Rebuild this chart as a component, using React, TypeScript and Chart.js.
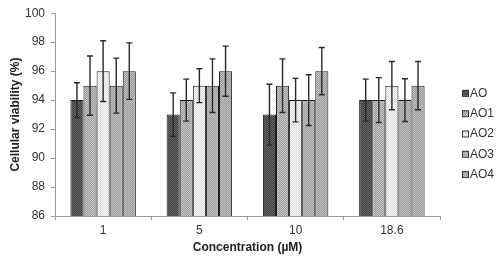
import React, { useEffect, useRef } from "react";
import { Chart, registerables } from "chart.js";

Chart.register(...registerables);

const categories = ["1", "5", "10", "18.6"];
const seriesNames = ["AO", "AO1", "AO2", "AO3", "AO4"];
const aoValues = [94, 93, 93, 94];
const ao1Values = [95, 94, 95, 94];
const ao2Values = [96, 95, 94, 95];
const ao3Values = [95, 95, 94, 94];
const ao4Values = [96, 96, 96, 95];
const aoErrors = [1.2, 1.5, 2.1, 1.45];
const ao1Errors = [2.05, 1.45, 1.85, 1.55];
const ao2Errors = [2.1, 1.17, 1.5, 1.67];
const ao3Errors = [1.9, 1.85, 1.75, 1.48];
const ao4Errors = [1.95, 1.73, 1.63, 1.67];
const yTicks = [86, 88, 90, 92, 94, 96, 98, 100];

const palette: [string, string][] = [
  ["#3e3e3e", "#686868"],
  ["#9a9a9a", "#c8c8c8"],
  ["#dedede", "#f6f6f6"],
  ["#a2a2a2", "#bdbdbd"],
  ["#999999", "#c2c2c2"],
];

function makePattern(a: string, b: string): CanvasPattern | string {
  const c = document.createElement("canvas");
  c.width = 2;
  c.height = 2;
  const ctx = c.getContext("2d");
  if (!ctx) return a;
  ctx.fillStyle = a;
  ctx.fillRect(0, 0, 2, 2);
  ctx.fillStyle = b;
  ctx.fillRect(0, 0, 1, 1);
  ctx.fillRect(1, 1, 1, 1);
  return ctx.createPattern(c, "repeat") || a;
}

const errorBarPlugin = {
  id: "errorBars",
  afterDatasetsDraw(chart: any) {
    const ctx = chart.ctx;
    const yScale = chart.scales.y;
    ctx.save();
    ctx.strokeStyle = "#2a2a2a";
    ctx.lineWidth = 1.4;
    chart.data.datasets.forEach((ds: any, i: number) => {
      const meta = chart.getDatasetMeta(i);
      meta.data.forEach((el: any, j: number) => {
        const v = ds.data[j];
        const e = ds.errors[j];
        const x = el.x;
        const yt = yScale.getPixelForValue(v + e);
        const yb = yScale.getPixelForValue(v - e);
        ctx.beginPath();
        ctx.moveTo(x, yt);
        ctx.lineTo(x, yb);
        ctx.moveTo(x - 3, yt);
        ctx.lineTo(x + 3, yt);
        ctx.moveTo(x - 3, yb);
        ctx.lineTo(x + 3, yb);
        ctx.stroke();
      });
    });
    ctx.restore();
  },
};

const legendPlugin = {
  id: "sideLegend",
  afterDraw(chart: any) {
    const ctx = chart.ctx;
    const area = chart.chartArea;
    const x0 = area.right + 22;
    const spacing = 20.3;
    const n = chart.data.datasets.length;
    const yStart = 133.5 - ((n - 1) * spacing) / 2;
    ctx.save();
    ctx.font = "12px 'Liberation Sans', Arial, sans-serif";
    ctx.textBaseline = "middle";
    ctx.textAlign = "left";
    chart.data.datasets.forEach((ds: any, i: number) => {
      const y = yStart + i * spacing;
      ctx.fillStyle = ds.backgroundColor;
      ctx.fillRect(x0, y - 3, 6, 6);
      ctx.strokeStyle = "#333";
      ctx.lineWidth = 1;
      ctx.strokeRect(x0 + 0.5, y - 2.5, 6, 6);
      ctx.fillStyle = "#333";
      ctx.fillText(ds.label, x0 + 8, y + 0.5);
    });
    ctx.restore();
  },
};

export default function App() {
  const ref = useRef<HTMLCanvasElement | null>(null);

  useEffect(() => {
    document.body.style.margin = "0";
    const canvas = ref.current;
    if (!canvas) return;
    const values = [aoValues, ao1Values, ao2Values, ao3Values, ao4Values];
    const errors = [aoErrors, ao1Errors, ao2Errors, ao3Errors, ao4Errors];
    const font = "'Liberation Sans', Arial, sans-serif";
    const chart = new Chart(canvas, {
      type: "bar",
      data: {
        labels: categories,
        datasets: seriesNames.map((name, i) => ({
          label: name,
          data: values[i],
          errors: errors[i],
          backgroundColor: makePattern(palette[i][0], palette[i][1]),
          borderColor: "#1c1c1c",
          borderWidth: 1,
          barPercentage: 1,
          categoryPercentage: 0.68,
        })) as any,
      },
      options: {
        responsive: false,
        animation: false,
        layout: { padding: { top: 11, right: 60, bottom: 0, left: 0 } },
        plugins: {
          legend: { display: false },
          tooltip: { enabled: false },
        },
        scales: {
          x: {
            type: "category",
            offset: true,
            grid: {
              display: true,
              drawOnChartArea: false,
              drawTicks: true,
              tickLength: 4,
              color: "#9a9a9a",
              offset: true,
            },
            border: { display: true, color: "#9a9a9a" },
            ticks: { color: "#333", font: { family: font, size: 12 }, padding: 3 },
            title: {
              display: true,
              text: "Concentration (µM)",
              color: "#222",
              font: { family: font, size: 12, weight: "bold" },
              padding: { top: 0, bottom: 7 },
            },
            afterFit: (s: any) => {
              s.height = 46;
            },
          },
          y: {
            min: 86,
            max: 100,
            afterBuildTicks: (s: any) => {
              s.ticks = yTicks.map((v) => ({ value: v }));
            },
            grid: {
              display: true,
              drawOnChartArea: false,
              drawTicks: true,
              tickLength: 4,
              color: "#9a9a9a",
            },
            border: { display: true, color: "#9a9a9a" },
            ticks: { color: "#333", font: { family: font, size: 12 }, padding: 6 },
            title: {
              display: true,
              text: "Cellular viability (%)",
              color: "#222",
              font: { family: font, size: 12, weight: "bold" },
              padding: { top: 8, bottom: 0 },
            },
            afterFit: (s: any) => {
              s.width = 55;
            },
          },
        },
      } as any,
      plugins: [errorBarPlugin, legendPlugin],
    });
    return () => chart.destroy();
  }, []);

  return (
    <div style={{ width: 500, height: 262 }}>
      <canvas ref={ref} width={500} height={262} />
    </div>
  );
}
